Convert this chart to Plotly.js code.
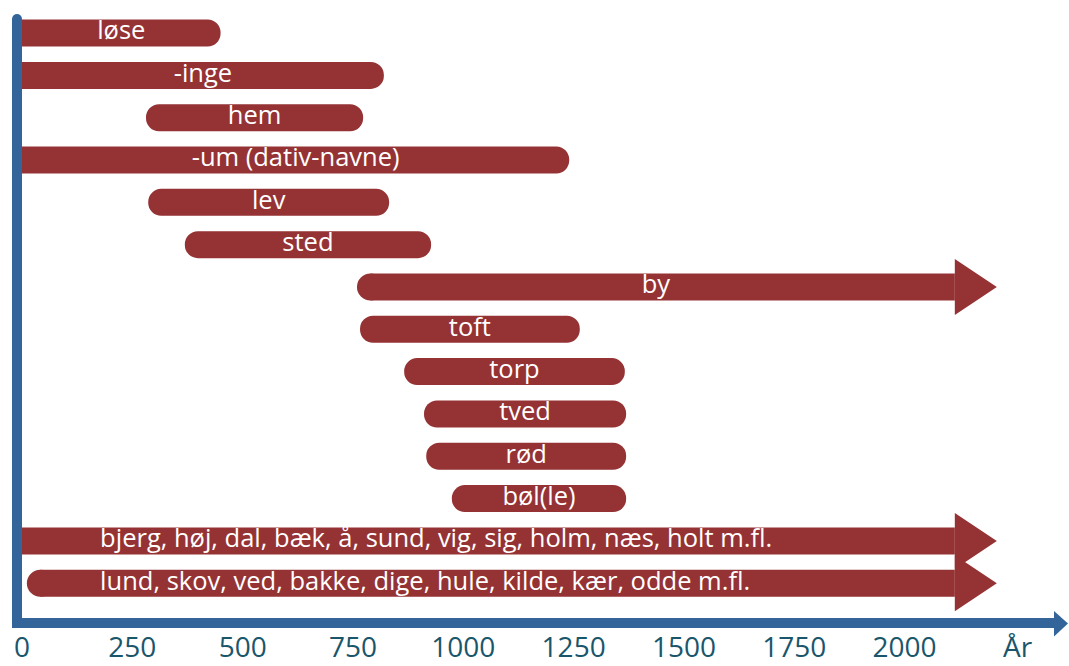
<!DOCTYPE html>
<html>
<head>
<meta charset="utf-8">
<script src="https://cdn.plot.ly/plotly-3.0.1.min.js"></script>
<style>html,body{margin:0;padding:0;background:#fff;}#chart{width:1069px;height:666px;}</style>
</head>
<body>
<div id="chart"></div>
<script>
// ---- data (years) ----
const categories = ['løse', '-inge', 'hem', '-um (dativ-navne)', 'lev', 'sted', 'by', 'toft', 'torp', 'tved', 'rød', 'bøl(le)',
  'bjerg, høj, dal, bæk, å, sund, vig, sig, holm, næs, holt m.fl.',
  'lund, skov, ved, bakke, dige, hule, kilde, kær, odde m.fl.'];
const startYear = [0, 0, 281, 0, 286, 369, 759, 766, 866, 911, 916, 974, 0, 11];
const endYear = [450, 820, 773, 1240, 832, 927, 2209, 1264, 1366, 1369, 1369, 1369, 2209, 2209];
const stillInUse = [false, false, false, false, false, false, true, false, false, false, false, false, true, true];
const tickValues = [0, 250, 500, 750, 1000, 1250, 1500, 1750, 2000];
const tickLabels = ['0', '250', '500', '750', '1000', '1250', '1500', '1750', '2000'];
const axisLabel = 'År';

// ---- style / layout constants ----
const RED = '#953234', BLUE = '#33659a', TICKC = '#1a566b';
const W = 1069, H = 666;
const M = {l: 22, r: 14, t: 19, b: 48};
const PW = W - M.l - M.r, PH = H - M.t - M.b;
const PX_PER_YEAR = 0.4413;
const ROW_PX = 42.32, ROW0_PX = 33.06;
const BAR_PX = 27, HEAD_H_PX = 56, HEAD_L_PX = 42;
const R = (BAR_PX / 2) / PX_PER_YEAR;
const HEAD_L = HEAD_L_PX / PX_PER_YEAR;
const BAR_W = BAR_PX / ROW_PX;
const HEAD_HALF = (HEAD_H_PX / 2) / ROW_PX;
const LONG_LABEL_X = 177;
const LABEL_FONT = {family: 'Open Sans, sans-serif', size: 25.5, color: '#ffffff'};
const TICK_FONT = {family: 'Open Sans, sans-serif', size: 28, color: TICKC};

const idx = categories.map((_, i) => i);
const finite = idx.filter(i => !stillInUse[i]);
const open = idx.filter(i => stillInUse[i]);
const barEnd = i => stillInUse[i] ? endYear[i] - HEAD_L : endYear[i];
// rounded bars: start at the axis hides the left rounding outside the plot area
const finiteBase = i => startYear[i] > 0 ? startYear[i] : -R;
// open (arrow) bars: square bar, a round cap when not starting at the axis
const openBase = i => startYear[i] > 0 ? startYear[i] + R : startYear[i];

const traces = [];
traces.push({
  type: 'bar', orientation: 'h',
  y: finite, base: finite.map(finiteBase), x: finite.map(i => endYear[i] - finiteBase(i)),
  width: BAR_W, marker: {color: RED, cornerradius: 14, line: {width: 0}},
  hoverinfo: 'skip'
});
traces.push({
  type: 'bar', orientation: 'h',
  y: open, base: open.map(openBase), x: open.map(i => barEnd(i) - openBase(i)),
  width: BAR_W, marker: {color: RED, line: {width: 0}},
  hoverinfo: 'skip'
});
const capped = open.filter(i => startYear[i] > 0);
traces.push({
  type: 'scatter', mode: 'markers',
  x: capped.map(i => startYear[i] + R), y: capped,
  marker: {symbol: 'circle', size: BAR_PX, color: RED, line: {width: 0}},
  hoverinfo: 'skip'
});
open.forEach(i => {
  const b = barEnd(i);
  traces.push({
    type: 'scatter', mode: 'lines', fill: 'toself', fillcolor: RED,
    x: [b, b, endYear[i], b], y: [i - HEAD_HALF, i + HEAD_HALF, i, i - HEAD_HALF],
    line: {width: 0, color: RED}, hoverinfo: 'skip'
  });
});
const isLong = i => stillInUse[i] && startYear[i] < 50;
traces.push({
  type: 'scatter', mode: 'text',
  x: idx.map(i => isLong(i) ? LONG_LABEL_X : (Math.max(startYear[i], 0) + barEnd(i)) / 2),
  y: idx, text: categories,
  textposition: idx.map(i => isLong(i) ? 'middle right' : 'middle center'),
  textfont: LABEL_FONT, hoverinfo: 'skip'
});

const px2x = px => (px - M.l) / PW;
const py2y = py => (H - M.b - py) / PH;

const layout = {
  width: W, height: H, margin: M,
  paper_bgcolor: '#ffffff', plot_bgcolor: '#ffffff',
  showlegend: false, hovermode: false, barmode: 'overlay',
  xaxis: {
    range: [0, PW / PX_PER_YEAR],
    showline: true, linewidth: 10, linecolor: BLUE,
    showgrid: false, zeroline: false, ticks: '',
    tickmode: 'array', tickvals: tickValues, ticktext: tickLabels,
    tickfont: TICK_FONT, ticklabelstandoff: -5,
    fixedrange: true
  },
  yaxis: {
    range: [(H - M.b - ROW0_PX) / ROW_PX, (M.t - ROW0_PX) / ROW_PX],
    showline: true, linewidth: 10, linecolor: BLUE,
    showgrid: false, zeroline: false, showticklabels: false, ticks: '',
    fixedrange: true
  },
  shapes: [
    {type: 'circle', xref: 'paper', yref: 'paper', x0: px2x(12), x1: px2x(22), y0: py2y(24), y1: py2y(14),
      fillcolor: BLUE, line: {width: 0}, layer: 'above'},
    {type: 'rect', xref: 'paper', yref: 'paper', x0: px2x(12), x1: px2x(22), y0: py2y(628), y1: py2y(618),
      fillcolor: BLUE, line: {width: 0}, layer: 'above'},
    {type: 'path', xref: 'paper', yref: 'paper',
      path: 'M ' + px2x(1054) + ',' + py2y(611) + ' L ' + px2x(1068) + ',' + py2y(623.5) + ' L ' + px2x(1054) + ',' + py2y(636.5) + ' Z',
      fillcolor: BLUE, line: {width: 0}, layer: 'above'}
  ],
  annotations: [
    {text: axisLabel, xref: 'x', yref: 'paper', x: (1018 - M.l) / PX_PER_YEAR, y: 0,
      xanchor: 'center', yanchor: 'top', yshift: -7, showarrow: false,
      font: TICK_FONT}
  ]
};

Plotly.newPlot('chart', traces, layout, {displayModeBar: false, staticPlot: true});
</script>
</body>
</html>
